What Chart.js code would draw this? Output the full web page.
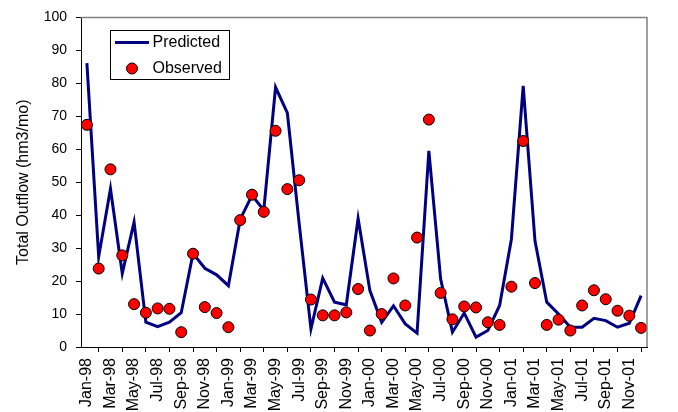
<!DOCTYPE html>
<html>
<head>
<meta charset="utf-8">
<script src="https://cdn.jsdelivr.net/npm/chart.js@4/dist/chart.umd.min.js"></script>
<style>
html,body{margin:0;padding:0;background:#fff;}
#wrap{width:678px;height:412px;position:relative;}
</style>
</head>
<body>
<div id="wrap"><canvas id="c" width="678" height="412"></canvas></div>
<script>
const months = [
  "Jan-98","Feb-98","Mar-98","Apr-98","May-98","Jun-98","Jul-98","Aug-98","Sep-98","Oct-98","Nov-98","Dec-98",
  "Jan-99","Feb-99","Mar-99","Apr-99","May-99","Jun-99","Jul-99","Aug-99","Sep-99","Oct-99","Nov-99","Dec-99",
  "Jan-00","Feb-00","Mar-00","Apr-00","May-00","Jun-00","Jul-00","Aug-00","Sep-00","Oct-00","Nov-00","Dec-00",
  "Jan-01","Feb-01","Mar-01","Apr-01","May-01","Jun-01","Jul-01","Aug-01","Sep-01","Oct-01","Nov-01","Dec-01"
];
const predicted = [
  86.1, 27.4, 48.0, 22.3, 37.9, 7.5, 6.2, 7.5, 10.4, 28.4, 23.9, 21.9,
  18.6, 38.7, 46.0, 41.5, 78.8, 71.0, 37.5, 5.5, 20.9, 13.6, 12.8, 39.0,
  17.1, 7.5, 12.5, 7.0, 4.2, 59.5, 20.6, 4.5, 10.3, 3.0, 5.0, 12.6,
  32.7, 79.2, 32.2, 13.6, 10.0, 6.0, 6.0, 8.7, 8.0, 6.0, 7.2, 15.6
];
const observed = [
  67.4, 23.8, 53.9, 27.8, 13.0, 10.4, 11.7, 11.6, 4.5, 28.3, 12.1, 10.3,
  6.0, 38.5, 46.2, 41.0, 65.6, 47.9, 50.6, 14.4, 9.6, 9.6, 10.5, 17.6,
  5.0, 10.0, 20.8, 12.6, 33.2, 69.0, 16.4, 8.4, 12.3, 12.0, 7.5, 6.7,
  18.3, 62.5, 19.4, 6.7, 8.3, 5.0, 12.6, 17.2, 14.5, 11.0, 9.5, 5.8
];
const yTicks = [0,10,20,30,40,50,60,70,80,90,100];
const seriesNames = ["Predicted","Observed"];
const yTitle = "Total Outflow (hm3/mo)";

const FONT = "'Liberation Sans', Arial, sans-serif";

const frame = {
  id: 'frame',
  afterDraw(chart){
    const {ctx, chartArea:a} = chart;
    ctx.save();
    ctx.strokeStyle = '#808080';
    ctx.lineWidth = 1.5;
    ctx.beginPath();
    ctx.moveTo(a.left, a.top);
    ctx.lineTo(a.right, a.top);
    ctx.lineTo(a.right, a.bottom);
    ctx.stroke();
    // legend
    const bx = 110.5, by = 30.5, bw = 119, bh = 49;
    ctx.fillStyle = '#fff';
    ctx.fillRect(bx, by, bw, bh);
    ctx.strokeStyle = '#000';
    ctx.lineWidth = 1;
    ctx.strokeRect(bx, by, bw, bh);
    ctx.strokeStyle = '#000080';
    ctx.lineWidth = 3;
    ctx.beginPath();
    ctx.moveTo(115, 42.5);
    ctx.lineTo(149, 42.5);
    ctx.stroke();
    ctx.beginPath();
    ctx.arc(132, 68.5, 5.5, 0, Math.PI*2);
    ctx.fillStyle = '#ff0000';
    ctx.fill();
    ctx.lineWidth = 1;
    ctx.strokeStyle = '#000';
    ctx.stroke();
    ctx.fillStyle = '#000';
    ctx.font = '16px ' + FONT;
    ctx.textBaseline = 'middle';
    ctx.textAlign = 'left';
    ctx.fillText(seriesNames[0], 152.5, 43);
    ctx.fillText(seriesNames[1], 152.5, 69);
    ctx.restore();
  }
};

new Chart(document.getElementById('c'), {
  type: 'line',
  data: {
    labels: months,
    datasets: [
      {
        label: seriesNames[0],
        data: predicted,
        borderColor: '#000080',
        borderWidth: 3,
        pointRadius: 0,
        tension: 0,
        fill: false,
        order: 2
      },
      {
        label: seriesNames[1],
        data: observed,
        showLine: false,
        pointRadius: 5.5,
        pointBackgroundColor: '#ff0000',
        pointBorderColor: '#000',
        pointBorderWidth: 1,
        order: 1
      }
    ]
  },
  options: {
    responsive: false,
    animation: false,
    layout: { padding: { top: 15, right: 31, left: 0, bottom: 0 } },
    plugins: { legend: { display: false }, tooltip: { enabled: false } },
    scales: {
      x: {
        offset: true,
        grid: { offset: true, drawOnChartArea: false, drawTicks: true, tickLength: 5, color: '#000' },
        border: { color: '#000', width: 1 },
        ticks: {
          autoSkip: false, maxRotation: 90, minRotation: 90,
          color: '#000', font: { family: FONT, size: 16 }, padding: 6,
          callback: function(v, i){ return i % 2 === 0 ? months[i] : null; }
        },
        afterFit(s){ s.height = 65; }
      },
      y: {
        min: 0, max: 100,
        afterBuildTicks(s){ s.ticks = yTicks.map(v => ({value: v})); },
        grid: { drawOnChartArea: false, drawTicks: true, tickLength: 5, color: '#000' },
        border: { color: '#000', width: 1 },
        ticks: { color: '#000', font: { family: FONT, size: 14 }, padding: 9 },
        title: { display: true, text: yTitle, color: '#000', font: { family: FONT, size: 16 }, padding: { top: 13.5, bottom: 0 } },
        afterFit(s){ s.width = 81; }
      }
    }
  },
  plugins: [frame]
});
</script>
</body>
</html>
